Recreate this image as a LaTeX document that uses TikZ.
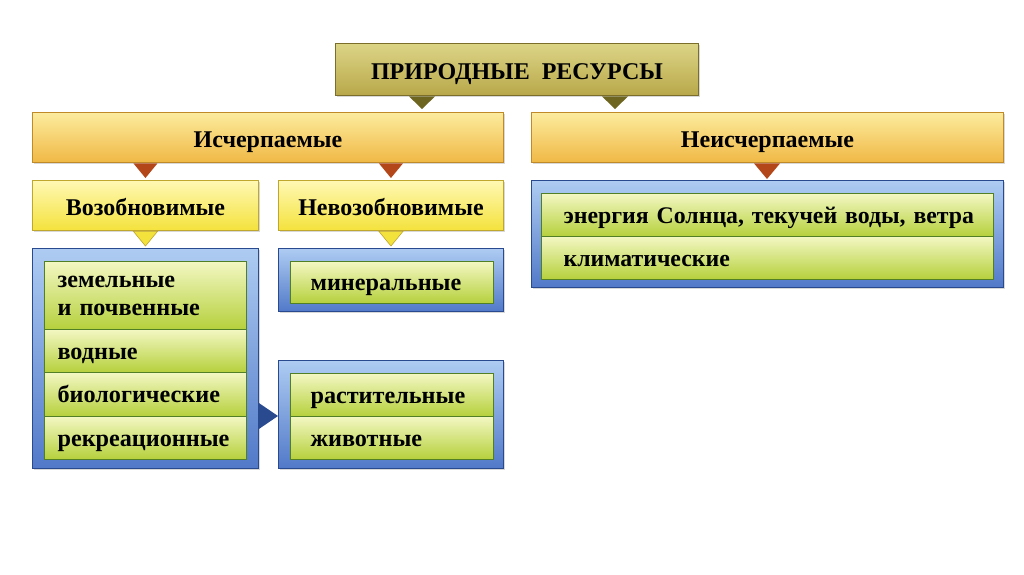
\documentclass[tikz,border=0pt]{standalone}
\usepackage{fontspec}
\setmainfont{Liberation Serif}
\usetikzlibrary{shadows,calc}
\definecolor{olivetop}{HTML}{DCD486}
\definecolor{olivebot}{HTML}{B8A84A}
\definecolor{oliveline}{HTML}{7A6E2A}
\definecolor{olivetri}{HTML}{6E6520}
\definecolor{orangetop}{HTML}{FCEC9E}
\definecolor{orangebot}{HTML}{F0B845}
\definecolor{orangeline}{HTML}{C08A28}
\definecolor{redtri}{HTML}{B3471A}
\definecolor{yellowtop}{HTML}{FFF8B4}
\definecolor{yellowbot}{HTML}{F4E23C}
\definecolor{yellowline}{HTML}{BFA62C}
\definecolor{bluetop}{HTML}{AECCF2}
\definecolor{bluebot}{HTML}{5179C8}
\definecolor{blueline}{HTML}{2A4A90}
\definecolor{greentop}{HTML}{F3F7C2}
\definecolor{greenbot}{HTML}{B5D03C}
\definecolor{greenline}{HTML}{507F26}
\begin{document}
\begin{tikzpicture}[x=1pt,y=-1pt,
  box/.style={anchor=north west, inner sep=0pt, line width=0.9pt,
    font=\bfseries\fontsize{24}{28}\selectfont, text height=22pt, text depth=2pt,
    drop shadow={shadow xshift=2pt, shadow yshift=-2pt, opacity=0.3}},
  olivebox/.style={box, draw=oliveline, top color=olivetop, bottom color=olivebot},
  orangebox/.style={box, draw=orangeline, top color=orangetop, bottom color=orangebot},
  yellowbox/.style={box, draw=yellowline, top color=yellowtop, bottom color=yellowbot},
  bluebox/.style={box, draw=blueline, top color=bluetop, bottom color=bluebot},
  rowbox/.style={anchor=north west, draw=greenline, line width=1.1pt,
    top color=greentop, bottom color=greenbot, inner ysep=0pt,
    text height=18pt, text depth=2pt,
    align=left, font=\bfseries\fontsize{24.2}{28}\selectfont},
  olivetri/.style={fill=olivetri},
  redtri/.style={fill=redtri},
  yellowtri/.style={fill=yellowbot, draw=yellowline, line width=0.6pt},
  bluetri/.style={fill=blueline}
]
\useasboundingbox[fill=white] (0,0) rectangle (1024,574);

% header boxes
\node[olivebox, minimum width=363, minimum height=52] (top) at (335,43) {ПРИРОДНЫЕ\ \ РЕСУРСЫ};
\node[orangebox, minimum width=471, minimum height=50] (isch) at (32,112) {Исчерпаемые};
\node[orangebox, minimum width=472, minimum height=50] (neisch) at (531,112) {Неисчерпаемые};
\node[yellowbox, minimum width=226, minimum height=50] (voz) at (32,180) {Возобновимые};
\node[yellowbox, minimum width=225, minimum height=50] (nevoz) at (278,180) {Невозобновимые};

% blue containers
\node[bluebox, minimum width=226, minimum height=220] (bl1) at (32,248) {};
\node[bluebox, minimum width=225, minimum height=63] (bl2) at (278,248) {};
\node[bluebox, minimum width=225, minimum height=108] (bl3) at (278,360) {};
\node[bluebox, minimum width=472, minimum height=107] (bl4) at (531,180) {};

% rows
\node[rowbox, inner xsep=13pt, text width=176pt, minimum height=68, text height=18pt, text depth=34pt] (r11) at (44,261) {земельные\\и почвенные};
\node[rowbox, inner xsep=13pt, text width=176pt, minimum height=43] (r12) at (44,329) {водные};
\node[rowbox, inner xsep=13pt, text width=176pt, minimum height=44] (r13) at (44,372) {биологические};
\node[rowbox, inner xsep=13pt, text width=176pt, minimum height=43] (r14) at (44,416) {рекреационные};
\node[rowbox, inner xsep=20pt, text width=163pt, minimum height=42] (r21) at (290,261) {минеральные};
\node[rowbox, inner xsep=20pt, text width=163pt, minimum height=43] (r31) at (290,373) {растительные};
\node[rowbox, inner xsep=20pt, text width=163pt, minimum height=43] (r32) at (290,416) {животные};
\node[rowbox, inner xsep=8pt, text width=436pt, minimum height=43, font=\bfseries\fontsize{23.8}{28}\selectfont] (r41) at (541,193) {\hspace*{14pt}энергия Солнца, текучей воды, ветра};
\node[rowbox, inner xsep=8pt, text width=436pt, minimum height=43, font=\bfseries\fontsize{23.8}{28}\selectfont] (r42) at (541,236) {\hspace*{14pt}климатические};

% connectors (triangles)
\fill[olivetri] ($(top.south -| 422,0)+(-13,0.5)$) -- ($(top.south -| 422,0)+(13,0.5)$) -- ($(isch.north -| 422,0)+(0,-3)$) -- cycle;
\fill[olivetri] ($(top.south -| 615,0)+(-13,0.5)$) -- ($(top.south -| 615,0)+(13,0.5)$) -- ($(neisch.north -| 615,0)+(0,-3)$) -- cycle;
\fill[redtri] ($(isch.south -| voz.north)+(-12,0.5)$) -- ($(isch.south -| voz.north)+(12,0.5)$) -- ($(voz.north)+(0,-2)$) -- cycle;
\fill[redtri] ($(isch.south -| nevoz.north)+(-12,0.5)$) -- ($(isch.south -| nevoz.north)+(12,0.5)$) -- ($(nevoz.north)+(0,-2)$) -- cycle;
\fill[redtri] ($(neisch.south -| 767,0)+(-13,0.5)$) -- ($(neisch.south -| 767,0)+(13,0.5)$) -- ($(bl4.north -| 767,0)+(0,-1)$) -- cycle;
\filldraw[yellowtri] ($(voz.south)+(-12,0.5)$) -- ($(voz.south)+(12,0.5)$) -- ($(bl1.north -| voz.south)+(0,-2)$) -- cycle;
\filldraw[yellowtri] ($(nevoz.south)+(-12,0.5)$) -- ($(nevoz.south)+(12,0.5)$) -- ($(bl2.north -| nevoz.south)+(0,-2)$) -- cycle;
\fill[bluetri] ($(bl1.east |- r14.north)+(0,-13)$) -- ($(bl1.east |- r14.north)+(0,13)$) -- (bl3.west |- r32.north) -- cycle;
\end{tikzpicture}
\end{document}
